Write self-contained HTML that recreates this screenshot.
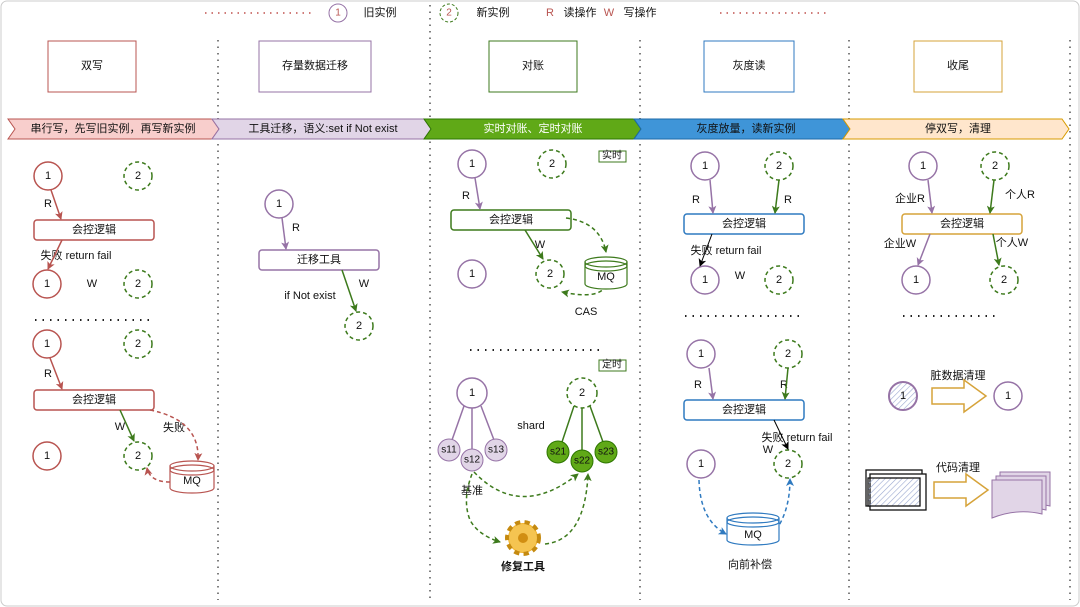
<!DOCTYPE html>
<html><head><meta charset="utf-8"><style>
html,body{margin:0;padding:0;background:#fff;}
svg{display:block;font-family:"Liberation Sans","Noto Sans CJK SC",sans-serif;}
text{font-size:11px;fill:#111;text-anchor:middle;dominant-baseline:central;}
</style></head><body>
<svg width="1080" height="607" viewBox="0 0 1080 607" xmlns="http://www.w3.org/2000/svg">
<defs>
<marker id="ar" markerWidth="8" markerHeight="8" refX="7" refY="4" orient="auto" markerUnits="userSpaceOnUse"><path d="M0,0 L8,4 L0,8 L2,4z" fill="#b85450"/></marker>
<marker id="ap" markerWidth="8" markerHeight="8" refX="7" refY="4" orient="auto" markerUnits="userSpaceOnUse"><path d="M0,0 L8,4 L0,8 L2,4z" fill="#9673a6"/></marker>
<marker id="ag" markerWidth="8" markerHeight="8" refX="7" refY="4" orient="auto" markerUnits="userSpaceOnUse"><path d="M0,0 L8,4 L0,8 L2,4z" fill="#3d7a1c"/></marker>
<marker id="ab" markerWidth="8" markerHeight="8" refX="7" refY="4" orient="auto" markerUnits="userSpaceOnUse"><path d="M0,0 L8,4 L0,8 L2,4z" fill="#2f7ac0"/></marker>
<marker id="ak" markerWidth="8" markerHeight="8" refX="7" refY="4" orient="auto" markerUnits="userSpaceOnUse"><path d="M0,0 L8,4 L0,8 L2,4z" fill="#000"/></marker>
<pattern id="hatch" width="4" height="4" patternUnits="userSpaceOnUse" patternTransform="rotate(45)"><line x1="0" y1="0" x2="0" y2="4" stroke="#9aa8d0" stroke-width="1.2"/></pattern>
</defs>
<rect x="1" y="1" width="1078" height="605" rx="6" fill="#fff" stroke="#ccc"/>
<!-- legend -->
<line x1="205" y1="13" x2="312" y2="13" stroke="#c0504d" stroke-dasharray="1.5 5" stroke-width="1.5"/>
<line x1="720" y1="13" x2="830" y2="13" stroke="#c0504d" stroke-dasharray="1.5 5" stroke-width="1.5"/>
<circle cx="338" cy="13" r="9" fill="#fff" stroke="#9673a6"/><text x="338" y="13" style="font-size:10px;fill:#b85450">1</text>
<text x="380" y="13">旧实例</text>
<circle cx="449" cy="13" r="9" fill="#fff" stroke="#3d7a1c" stroke-dasharray="3 2"/><text x="449" y="13" style="font-size:10px;fill:#b85450">2</text>
<text x="493" y="13">新实例</text>
<text x="550" y="13" style="fill:#b85450">R</text><text x="580" y="13">读操作</text>
<text x="609" y="13" style="fill:#b85450">W</text><text x="640" y="13">写操作</text>
<!-- dividers -->
<g stroke="#555" stroke-width="1.5" stroke-dasharray="1.5 5">
<line x1="218" y1="40" x2="218" y2="600"/><line x1="430" y1="5" x2="430" y2="600"/>
<line x1="640" y1="40" x2="640" y2="600"/><line x1="849" y1="40" x2="849" y2="600"/>
<line x1="1070" y1="40" x2="1070" y2="600"/>
</g>
<!-- headers -->
<rect x="48" y="41" width="88" height="51" fill="#fff" stroke="#b85450"/><text x="92" y="66">双写</text>
<rect x="259" y="41" width="112" height="51" fill="#fff" stroke="#9673a6"/><text x="315" y="66">存量数据迁移</text>
<rect x="489" y="41" width="88" height="51" fill="#fff" stroke="#3d7a1c"/><text x="533" y="66">对账</text>
<rect x="704" y="41" width="90" height="51" fill="#fff" stroke="#2f7ac0"/><text x="749" y="66">灰度读</text>
<rect x="914" y="41" width="88" height="51" fill="#fff" stroke="#d6a33a"/><text x="958" y="66">收尾</text>
<!-- banners -->
<polygon points="8,119 212,119 219,129 212,139 8,139 15,129" fill="#f8cecc" stroke="#b85450"/>
<text x="113" y="129">串行写，先写旧实例，再写新实例</text>
<polygon points="212,119 424,119 431,129 424,139 212,139 219,129" fill="#e1d5e7" stroke="#9673a6"/>
<text x="323" y="129">工具迁移，语义:set if Not exist</text>
<polygon points="424,119 634,119 641,129 634,139 424,139 431,129" fill="#60a917" stroke="#2d7600"/>
<text x="533" y="129" style="fill:#fff">实时对账、定时对账</text>
<polygon points="634,119 843,119 850,129 843,139 634,139 641,129" fill="#3f95d8" stroke="#1d6aa8"/>
<text x="746" y="129">灰度放量，读新实例</text>
<polygon points="843,119 1062,119 1069,129 1062,139 843,139 850,129" fill="#ffe6cc" stroke="#d79b00"/>
<text x="958" y="129">停双写，清理</text>

<g fill="#fff" stroke-width="1.5">
<!-- col1 -->
<circle cx="48" cy="176" r="14" stroke="#b85450"/><circle cx="138" cy="176" r="14" stroke="#3d7a1c" stroke-dasharray="4 3"/>
<rect x="34" y="220" width="120" height="20" rx="3" stroke="#b85450"/>
<circle cx="47" cy="284" r="14" stroke="#b85450"/><circle cx="138" cy="284" r="14" stroke="#3d7a1c" stroke-dasharray="4 3"/>
<circle cx="47" cy="344" r="14" stroke="#b85450"/><circle cx="138" cy="344" r="14" stroke="#3d7a1c" stroke-dasharray="4 3"/>
<rect x="34" y="390" width="120" height="20" rx="3" stroke="#b85450"/>
<circle cx="47" cy="456" r="14" stroke="#b85450"/><circle cx="138" cy="456" r="14" stroke="#3d7a1c" stroke-dasharray="4 3"/>
<!-- col2 -->
<circle cx="279" cy="204" r="14" stroke="#9673a6"/>
<rect x="259" y="250" width="120" height="20" rx="3" stroke="#9673a6"/>
<circle cx="359" cy="326" r="14" stroke="#3d7a1c" stroke-dasharray="4 3"/>
<!-- col3 -->
<circle cx="472" cy="164" r="14" stroke="#9673a6"/><circle cx="552" cy="164" r="14" stroke="#3d7a1c" stroke-dasharray="4 3"/>
<rect x="451" y="210" width="120" height="20" rx="3" stroke="#3d7a1c"/>
<circle cx="472" cy="274" r="14" stroke="#9673a6"/><circle cx="550" cy="274" r="14" stroke="#3d7a1c" stroke-dasharray="4 3"/>
<circle cx="472" cy="393" r="15" stroke="#9673a6"/><circle cx="582" cy="393" r="15" stroke="#3d7a1c" stroke-dasharray="4 3"/>
<!-- col4 -->
<circle cx="705" cy="166" r="14" stroke="#9673a6"/><circle cx="779" cy="166" r="14" stroke="#3d7a1c" stroke-dasharray="4 3"/>
<rect x="684" y="214" width="120" height="20" rx="3" stroke="#2f7ac0"/>
<circle cx="705" cy="280" r="14" stroke="#9673a6"/><circle cx="779" cy="280" r="14" stroke="#3d7a1c" stroke-dasharray="4 3"/>
<circle cx="701" cy="354" r="14" stroke="#9673a6"/><circle cx="788" cy="354" r="14" stroke="#3d7a1c" stroke-dasharray="4 3"/>
<rect x="684" y="400" width="120" height="20" rx="3" stroke="#2f7ac0"/>
<circle cx="701" cy="464" r="14" stroke="#9673a6"/><circle cx="788" cy="464" r="14" stroke="#3d7a1c" stroke-dasharray="4 3"/>
<!-- col5 -->
<circle cx="923" cy="166" r="14" stroke="#9673a6"/><circle cx="995" cy="166" r="14" stroke="#3d7a1c" stroke-dasharray="4 3"/>
<rect x="902" y="214" width="120" height="20" rx="3" stroke="#d6a33a"/>
<circle cx="916" cy="280" r="14" stroke="#9673a6"/><circle cx="1004" cy="280" r="14" stroke="#3d7a1c" stroke-dasharray="4 3"/>
<circle cx="903" cy="396" r="14" stroke="#9673a6" fill="url(#hatch)" stroke-width="2"/>
<circle cx="1008" cy="396" r="14" stroke="#9673a6"/>
</g>
<g>
<text x="48" y="176">1</text><text x="138" y="176">2</text><text x="94" y="230">会控逻辑</text>
<text x="47" y="284">1</text><text x="138" y="284">2</text><text x="47" y="344">1</text><text x="138" y="344">2</text>
<text x="94" y="400">会控逻辑</text><text x="47" y="456">1</text><text x="138" y="456">2</text>
<text x="48" y="204">R</text><text x="76" y="256">失败 return fail</text><text x="92" y="284">W</text>
<text x="48" y="374">R</text><text x="120" y="427">W</text><text x="174" y="428">失败</text>
<text x="279" y="204">1</text><text x="296" y="228">R</text><text x="319" y="260">迁移工具</text><text x="364" y="284">W</text><text x="310" y="296">if Not exist</text><text x="359" y="326">2</text>
<text x="472" y="164">1</text><text x="552" y="164">2</text><text x="466" y="196">R</text><text x="511" y="220">会控逻辑</text><text x="540" y="245">W</text>
<text x="472" y="274">1</text><text x="550" y="274">2</text><text x="586" y="312">CAS</text>
<text x="472" y="393">1</text><text x="582" y="393">2</text><text x="531" y="426">shard</text><text x="472" y="491">基准</text>
<text x="523" y="567" style="font-weight:bold">修复工具</text>
<text x="705" y="166">1</text><text x="779" y="166">2</text><text x="696" y="200">R</text><text x="788" y="200">R</text><text x="744" y="224">会控逻辑</text>
<text x="726" y="251">失败 return fail</text><text x="705" y="280">1</text><text x="740" y="276">W</text><text x="779" y="280">2</text>
<text x="701" y="354">1</text><text x="788" y="354">2</text><text x="698" y="385">R</text><text x="784" y="385">R</text><text x="744" y="410">会控逻辑</text>
<text x="797" y="438">失败 return fail</text><text x="768" y="450">W</text><text x="701" y="464">1</text><text x="788" y="464">2</text><text x="750" y="565">向前补偿</text>
<text x="923" y="166">1</text><text x="995" y="166">2</text><text x="910" y="199">企业R</text><text x="1020" y="195">个人R</text><text x="962" y="224">会控逻辑</text>
<text x="900" y="244">企业W</text><text x="1012" y="243">个人W</text><text x="916" y="280">1</text><text x="1004" y="280">2</text>
<text x="903" y="396">1</text><text x="1008" y="396">1</text><text x="958" y="376">脏数据清理</text><text x="958" y="468">代码清理</text>
</g>
<!-- dotted separators -->
<g stroke="#222" stroke-width="2" stroke-dasharray="1.5 6">
<line x1="35" y1="320" x2="150" y2="320"/><line x1="470" y1="350" x2="600" y2="350"/>
<line x1="685" y1="316" x2="800" y2="316"/><line x1="903" y1="316" x2="1000" y2="316"/>
</g>
<!-- arrows -->
<g fill="none" stroke-width="1.5">
<line x1="51" y1="190" x2="61" y2="219" stroke="#b85450" marker-end="url(#ar)"/>
<line x1="62" y1="240" x2="48" y2="269" stroke="#b85450" marker-end="url(#ar)"/>
<line x1="50" y1="358" x2="62" y2="389" stroke="#b85450" marker-end="url(#ar)"/>
<line x1="120" y1="410" x2="134" y2="441" stroke="#3d7a1c" marker-end="url(#ag)"/>
<path d="M150,410 Q200,420 198,460" stroke="#b85450" stroke-dasharray="4 3" marker-end="url(#ar)"/>
<path d="M170,482 Q150,482 147,468" stroke="#b85450" stroke-dasharray="4 3" marker-end="url(#ar)"/>
<line x1="282" y1="218" x2="286" y2="249" stroke="#9673a6" marker-end="url(#ap)"/>
<line x1="342" y1="270" x2="356" y2="311" stroke="#3d7a1c" marker-end="url(#ag)"/>
<line x1="475" y1="178" x2="480" y2="209" stroke="#9673a6" marker-end="url(#ap)"/>
<line x1="525" y1="230" x2="543" y2="259" stroke="#3d7a1c" marker-end="url(#ag)"/>
<path d="M566,218 Q600,222 606,252" stroke="#3d7a1c" stroke-dasharray="4 3" marker-end="url(#ag)"/>
<path d="M606,285 Q600,300 562,292" stroke="#3d7a1c" stroke-dasharray="4 3" marker-end="url(#ag)"/>
<line x1="710" y1="180" x2="713" y2="213" stroke="#9673a6" marker-end="url(#ap)"/>
<line x1="779" y1="180" x2="775" y2="213" stroke="#3d7a1c" marker-end="url(#ag)"/>
<line x1="712" y1="234" x2="700" y2="266" stroke="#000" stroke-width="1" marker-end="url(#ak)"/>
<line x1="709" y1="368" x2="713" y2="399" stroke="#9673a6" marker-end="url(#ap)"/>
<line x1="788" y1="368" x2="785" y2="399" stroke="#3d7a1c" marker-end="url(#ag)"/>
<line x1="774" y1="420" x2="788" y2="449" stroke="#000" stroke-width="1" marker-end="url(#ak)"/>
<path d="M699,480 Q700,520 726,534" stroke="#2f7ac0" stroke-dasharray="4 3" marker-end="url(#ab)"/>
<path d="M776,530 Q790,510 790,479" stroke="#2f7ac0" stroke-dasharray="4 3" marker-end="url(#ab)"/>
<line x1="928" y1="180" x2="932" y2="213" stroke="#9673a6" marker-end="url(#ap)"/>
<line x1="994" y1="180" x2="990" y2="213" stroke="#3d7a1c" marker-end="url(#ag)"/>
<line x1="930" y1="234" x2="918" y2="265" stroke="#9673a6" marker-end="url(#ap)"/>
<line x1="993" y1="234" x2="999" y2="265" stroke="#3d7a1c" marker-end="url(#ag)"/>
<!-- shard lines -->
<line x1="464" y1="406" x2="452" y2="440" stroke="#9673a6"/><line x1="472" y1="408" x2="472" y2="450" stroke="#9673a6"/><line x1="481" y1="406" x2="494" y2="440" stroke="#9673a6"/>
<line x1="574" y1="406" x2="562" y2="442" stroke="#3d7a1c"/><line x1="582" y1="408" x2="582" y2="450" stroke="#3d7a1c"/><line x1="590" y1="406" x2="603" y2="442" stroke="#3d7a1c"/>
<path d="M474,472 Q520,520 578,474" stroke="#3d7a1c" stroke-dasharray="4 3" marker-end="url(#ag)"/>
<path d="M472,474 Q462,500 470,520 Q478,535 500,542" stroke="#3d7a1c" stroke-dasharray="4 3" marker-end="url(#ag)"/>
<path d="M545,544 Q585,540 588,474" stroke="#3d7a1c" stroke-dasharray="4 3" marker-end="url(#ag)"/>
</g>
<!-- shard circles -->
<g stroke-width="1">
<circle cx="449" cy="450" r="11" fill="#e1d5e7" stroke="#9673a6"/><circle cx="496" cy="450" r="11" fill="#e1d5e7" stroke="#9673a6"/><circle cx="472" cy="460" r="11" fill="#e1d5e7" stroke="#9673a6"/>
<circle cx="558" cy="452" r="11" fill="#60a917" stroke="#2d7600"/><circle cx="606" cy="452" r="11" fill="#60a917" stroke="#2d7600"/><circle cx="582" cy="461" r="11" fill="#60a917" stroke="#2d7600"/>
</g>
<g style="font-size:10px"><text x="449" y="450" style="font-size:10px">s11</text><text x="496" y="450" style="font-size:10px">s13</text><text x="472" y="460" style="font-size:10px">s12</text>
<text x="558" y="452" style="font-size:10px">s21</text><text x="606" y="452" style="font-size:10px">s23</text><text x="582" y="461" style="font-size:10px">s22</text></g>
<!-- tags -->
<rect x="599" y="151" width="27" height="11" fill="#fff" stroke="#3d7a1c"/><text x="612" y="156" style="font-size:10px">实时</text>
<rect x="599" y="360" width="27" height="11" fill="#fff" stroke="#3d7a1c"/><text x="612" y="365" style="font-size:10px">定时</text>
<!-- gear -->
<g transform="translate(523,538)">
<circle r="15" fill="#f2b530" stroke="#c58a10" stroke-width="6" stroke-dasharray="5 4"/>
<circle r="14" fill="#f5c451"/><circle r="5" fill="#d18e12"/>
</g>
<!-- MQ cylinders -->
<g stroke-width="1.2">
<path d="M170,466 v22 a22,5 0 0 0 44,0 v-22" fill="#fff" stroke="#b85450"/><ellipse cx="192" cy="466" rx="22" ry="5" fill="#fff" stroke="#b85450"/><ellipse cx="192" cy="470" rx="22" ry="5" fill="none" stroke="#b85450"/>
<path d="M585,262 v22 a21,5 0 0 0 42,0 v-22" fill="#fff" stroke="#3d7a1c"/><ellipse cx="606" cy="262" rx="21" ry="5" fill="#fff" stroke="#3d7a1c"/><ellipse cx="606" cy="266" rx="21" ry="5" fill="none" stroke="#3d7a1c"/>
<path d="M727,518 v22 a26,5 0 0 0 52,0 v-22" fill="#fff" stroke="#2f7ac0"/><ellipse cx="753" cy="518" rx="26" ry="5" fill="#fff" stroke="#2f7ac0"/><ellipse cx="753" cy="522" rx="26" ry="5" fill="none" stroke="#2f7ac0"/>
</g>
<text x="192" y="481">MQ</text><text x="606" y="277">MQ</text><text x="753" y="535">MQ</text>
<!-- col5 shapes -->
<polygon points="932,388 964,388 964,380 986,396 964,412 964,404 932,404" fill="#fff" stroke="#d6a33a" stroke-width="1.5"/>
<polygon points="934,482 966,482 966,474 988,490 966,506 966,498 934,498" fill="#fff" stroke="#d6a33a" stroke-width="1.5"/>
<g fill="#fff" stroke="#111" stroke-width="1.3">
<rect x="866" y="470" width="56" height="36"/><rect x="870" y="474" width="56" height="36"/>
<rect x="868" y="478" width="52" height="28" fill="url(#hatch)"/>
</g>
<g fill="#e1d5e7" stroke="#9673a6" stroke-width="1">
<path d="M1000,472 h50 v34 q-25,-6 -50,4z"/><path d="M996,476 h50 v34 q-25,-6 -50,4z"/><path d="M992,480 h50 v34 q-25,-6 -50,4z"/>
</g>
</svg>
</body></html>
